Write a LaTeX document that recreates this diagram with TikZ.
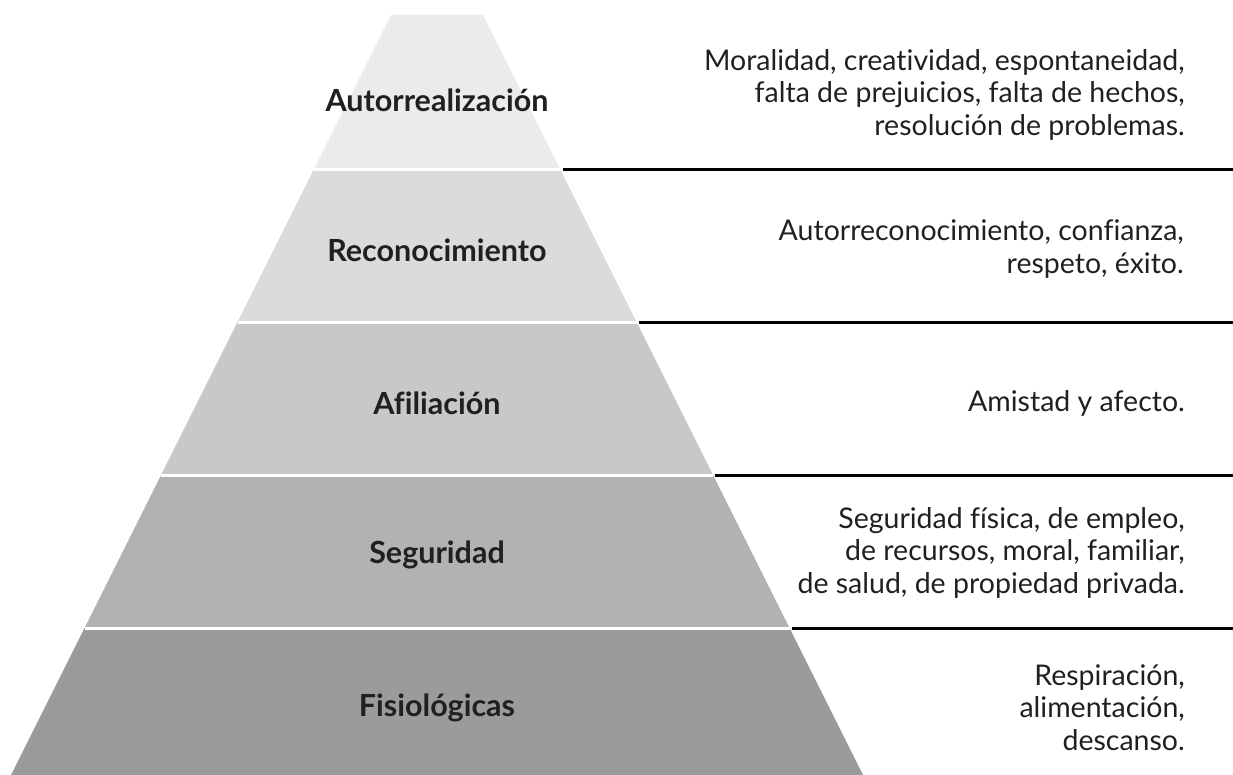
\documentclass[tikz,border=0pt]{standalone}
\usepackage{fontspec}
\setmainfont{Lato}[Ligatures={NoCommon}]
\definecolor{levelA}{HTML}{EBEBEB}
\definecolor{levelB}{HTML}{DBDBDB}
\definecolor{levelC}{HTML}{C8C8C8}
\definecolor{levelD}{HTML}{B2B2B3}
\definecolor{levelE}{HTML}{9A9B9D}
\definecolor{inktext}{HTML}{231F20}
\tikzset{
  levellabel/.style={font=\fontsize{30.5}{34}\selectfont\bfseries, text=inktext, inner sep=0pt},
  needtext/.style={font=\fontsize{28.5}{32.5}\selectfont, text=inktext, align=right, anchor=east, inner sep=0pt},
  gapline/.style={white, line width=3pt},
  ruleline/.style={black, line width=3pt}
}
\begin{document}
\begin{tikzpicture}[x=1pt,y=-1pt]
    \useasboundingbox (0,0) rectangle (1233,775);
    % Levels of the pyramid
    \fill[levelA] (391,15) -- (483,15) -- (560.5,170) -- (313.5,170) -- cycle;
    \fill[levelB] (313.5,170) -- (560.5,170) -- (636.5,322) -- (237.5,322) -- cycle;
    \fill[levelC] (237.5,322) -- (636.5,322) -- (713,475) -- (161,475) -- cycle;
    \fill[levelD] (161,475) -- (713,475) -- (789.5,628) -- (84.5,628) -- cycle;
    \fill[levelE] (84.5,628) -- (789.5,628) -- (863,775) -- (11,775) -- cycle;
    % Edge points
    \coordinate (leftA) at (313.5,170);
    \coordinate (leftB) at (237.5,322);
    \coordinate (leftC) at (161,475);
    \coordinate (leftD) at (84.5,628);
    \coordinate (rightA) at (560.5,170);
    \coordinate (rightB) at (636.5,322);
    \coordinate (rightC) at (713,475);
    \coordinate (rightD) at (789.5,628);
    \coordinate (endA) at (1233,170);
    \coordinate (endB) at (1233,322);
    \coordinate (endC) at (1233,475);
    \coordinate (endD) at (1233,628);
    % Gaps and rules
    \foreach \lvl in {A,B,C,D} {
      \draw[gapline] (left\lvl) -- (right\lvl);
      \draw[ruleline] ([xshift=2pt]right\lvl) -- (end\lvl);
    }
    % Labels
    \node[levellabel] (autorrealizacion) at (437,100) {Autorrealización};
    \node[levellabel] (reconocimiento) at (437,250) {Reconocimiento};
    \node[levellabel] (afiliacion) at (437,403) {Afiliación};
    \node[levellabel] (seguridad) at (437,555) {Seguridad};
    \node[levellabel] (fisiologicas) at (437,708) {Fisiológicas};
    % Needs
    \node[needtext] (needA) at (1185,94.5) {Moralidad, creatividad, espontaneidad,\\falta de prejuicios, falta de hechos,\\resolución de problemas.};
    \node[needtext] (needB) at (1184,249) {Autorreconocimiento, confianza,\\respeto, éxito.};
    \node[needtext] (needC) at (1185,403) {Amistad y afecto.};
    \node[needtext] (needD) at (1185,552.5) {Seguridad física, de empleo,\\de recursos, moral, familiar,\\de salud, de propiedad privada.};
    \node[needtext] (needE) at (1185,707.5) {Respiración,\\alimentación,\\descanso.};
\end{tikzpicture}
\end{document}
